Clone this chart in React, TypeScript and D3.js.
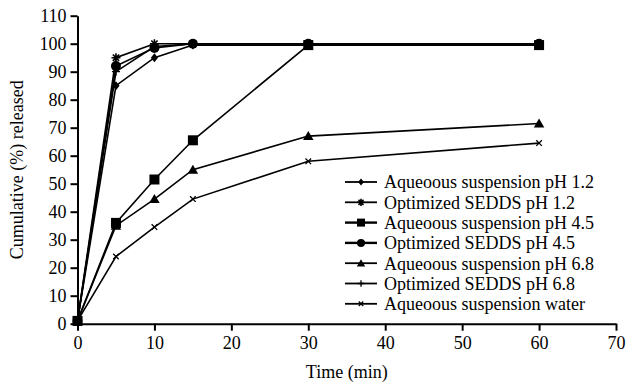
import React, { useEffect, useRef } from 'react';
import * as d3 from 'd3';

const times = [0, 5, 10, 15, 30, 60];

const aqPh12 = [1, 85, 95, 99.5, 99.5, 99.5];
const optPh12 = [1, 95, 100, 100, 100, 100];
const aqPh45 = [1, 36, 51.5, 65.5, 99.5, 99.5];
const optPh45 = [1, 92, 98.5, 100, 100, 100];
const aqPh68 = [1, 35, 44.5, 55, 67, 71.5];
const optPh68 = [1, 90, 99, 100, 100, 100];
const aqWater = [1, 24, 34.5, 44.5, 58, 64.5];

const seriesNames = [
  'Aqueoous suspension pH 1.2',
  'Optimized SEDDS pH 1.2',
  'Aqueoous suspension pH 4.5',
  'Optimized SEDDS pH 4.5',
  'Aqueoous suspension pH 6.8',
  'Optimized SEDDS pH 6.8',
  'Aqueoous suspension water',
];
const seriesValues = [aqPh12, optPh12, aqPh45, optPh45, aqPh68, optPh68, aqWater];
const markers = ['diamond', 'asterisk', 'square', 'circle', 'triangle', 'plus', 'cross'];

const xTicks = [0, 10, 20, 30, 40, 50, 60, 70];
const yTicks = [0, 10, 20, 30, 40, 50, 60, 70, 80, 90, 100, 110];

const FONT = "'Liberation Serif', serif";

// draws one marker centred on (0,0) into group g
function drawMarker(g, type, s) {
  if (type === 'diamond') {
    g.append('path').attr('d', `M0,${-s}L${s * 0.8},0L0,${s}L${-s * 0.8},0Z`).attr('fill', '#000');
  } else if (type === 'square') {
    g.append('rect').attr('x', -s).attr('y', -s).attr('width', 2 * s).attr('height', 2 * s).attr('fill', '#000');
  } else if (type === 'circle') {
    g.append('circle').attr('r', s).attr('fill', '#000');
  } else if (type === 'triangle') {
    g.append('path').attr('d', `M0,${-s}L${s * 1.05},${s * 0.8}L${-s * 1.05},${s * 0.8}Z`).attr('fill', '#000');
  } else if (type === 'asterisk') {
    const r = s;
    g.append('path')
      .attr('d', `M${-r},0L${r},0M0,${-r}L0,${r}M${-r * 0.7},${-r * 0.7}L${r * 0.7},${r * 0.7}M${-r * 0.7},${r * 0.7}L${r * 0.7},${-r * 0.7}`)
      .attr('stroke', '#000').attr('stroke-width', 1.6);
  } else if (type === 'plus') {
    g.append('path').attr('d', `M${-s},0L${s},0M0,${-s}L0,${s}`).attr('stroke', '#000').attr('stroke-width', 1.3);
  } else if (type === 'cross') {
    const r = s * 0.8;
    g.append('path').attr('d', `M${-r},${-r}L${r},${r}M${-r},${r}L${r},${-r}`).attr('stroke', '#000').attr('stroke-width', 1.3);
  }
}

const markerSize = { diamond: 4.5, asterisk: 4.5, square: 5, circle: 5, triangle: 5, plus: 4, cross: 3.5 };

const App = () => {
  const svgRef = useRef(null);

  useEffect(() => {
    const svg = d3.select(svgRef.current);
    svg.selectAll('*').remove();

    const width = 629;
    const height = 385;
    const margin = { left: 77.5, right: 13, top: 15.7, bottom: 61.3 };

    const x = d3.scaleLinear().domain([0, 70]).range([margin.left, width - margin.right]);
    const y = d3.scaleLinear().domain([0, 110]).range([height - margin.bottom, margin.top]);

    svg.attr('width', width).attr('height', height).style('font-family', FONT);

    // x axis
    const xAxis = svg.append('g')
      .attr('transform', `translate(0,${y(0)})`)
      .call(d3.axisBottom(x).tickValues(xTicks).tickSize(7).tickSizeOuter(0).tickPadding(6));
    xAxis.attr('font-family', null).attr('font-size', null);
    xAxis.select('.domain').attr('stroke-width', 2);
    xAxis.selectAll('.tick line').attr('stroke-width', 2);
    xAxis.selectAll('text').style('font-family', FONT).style('font-size', '18px').attr('fill', '#000');

    // y axis
    const yAxis = svg.append('g')
      .attr('transform', `translate(${x(0)},0)`)
      .call(d3.axisLeft(y).tickValues(yTicks).tickSize(7).tickSizeOuter(0).tickPadding(4));
    yAxis.attr('font-family', null).attr('font-size', null);
    yAxis.select('.domain').attr('stroke-width', 2);
    yAxis.selectAll('.tick line').attr('stroke-width', 2);
    yAxis.selectAll('text').style('font-family', FONT).style('font-size', '18px').attr('fill', '#000');

    // titles
    svg.append('text')
      .attr('x', (x(0) + x(70)) / 2)
      .attr('y', 378)
      .attr('text-anchor', 'middle')
      .style('font-family', FONT)
      .style('font-size', '18px')
      .text('Time (min)');

    svg.append('text')
      .attr('transform', `translate(23,${(y(0) + y(110)) / 2}) rotate(-90)`)
      .attr('text-anchor', 'middle')
      .style('font-family', FONT)
      .style('font-size', '18px')
      .text('Cumulative (%) released');

    const line = d3.line()
      .x((d, i) => x(times[i]))
      .y(d => y(d));

    const plot = svg.append('g');
    seriesValues.forEach((vals, si) => {
      plot.append('path')
        .attr('d', line(vals))
        .attr('fill', 'none')
        .attr('stroke', '#000')
        .attr('stroke-width', 1.6);
      vals.forEach((v, i) => {
        const g = plot.append('g').attr('transform', `translate(${x(times[i])},${y(v)})`);
        drawMarker(g, markers[si], markerSize[markers[si]]);
      });
    });

    // legend
    const legend = svg.append('g');
    seriesNames.forEach((name, i) => {
      const ly = 182 + i * 20.3;
      const row = legend.append('g').attr('transform', `translate(0,${ly})`);
      row.append('line')
        .attr('x1', 345).attr('x2', 377)
        .attr('stroke', '#000')
        .attr('stroke-width', i === 2 || i === 3 ? 2.4 : 1.8);
      const mg = row.append('g').attr('transform', 'translate(361,0)');
      drawMarker(mg, markers[i], markerSize[markers[i]] * 0.8);
      row.append('text')
        .attr('x', 384)
        .attr('y', 0)
        .attr('dy', '0.35em')
        .style('font-family', FONT)
        .style('font-size', '18px')
        .text(name);
    });
  }, []);

  return (
    <svg ref={svgRef} style={{ position: 'absolute', left: 0, top: 0 }}></svg>
  );
};

export default App;
